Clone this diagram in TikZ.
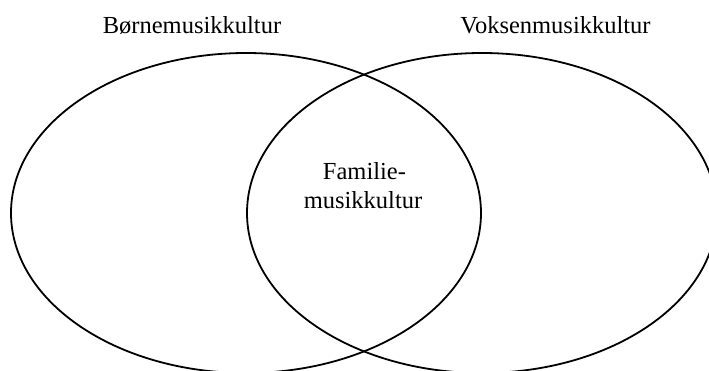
\documentclass[tikz,border=0pt]{standalone}
\usepackage{fontspec}
\setmainfont{Liberation Serif}
\usepackage{tikz}
\usetikzlibrary{positioning}
\tikzset{ring/.style = {draw, line width = 1.8}}
\tikzset{lbl/.style = {inner sep = 0, anchor = base, font = \fontsize{24.5}{28}\selectfont}}

\begin{document}
\begin{tikzpicture}[x=1pt, y=-1pt]
      \useasboundingbox (0, 0) rectangle (709, 370);
      \clip (0, 0) rectangle (709, 370);
      \draw [ring] (246, 213) ellipse [x radius = 235, y radius = 160];
      \draw [ring] (482, 213) ellipse [x radius = 235, y radius = 160];

      \node [lbl] (born) at (192, 33) {Børnemusikkultur};
      \node [lbl] (voksen) at (555.5, 33) {Voksenmusikkultur};
      \node [lbl] (familie) at (364.5, 179) {Familie-};
      \node [lbl] (musik) at (363, 208) {musikkultur};
    \end{tikzpicture}
\end{document}
